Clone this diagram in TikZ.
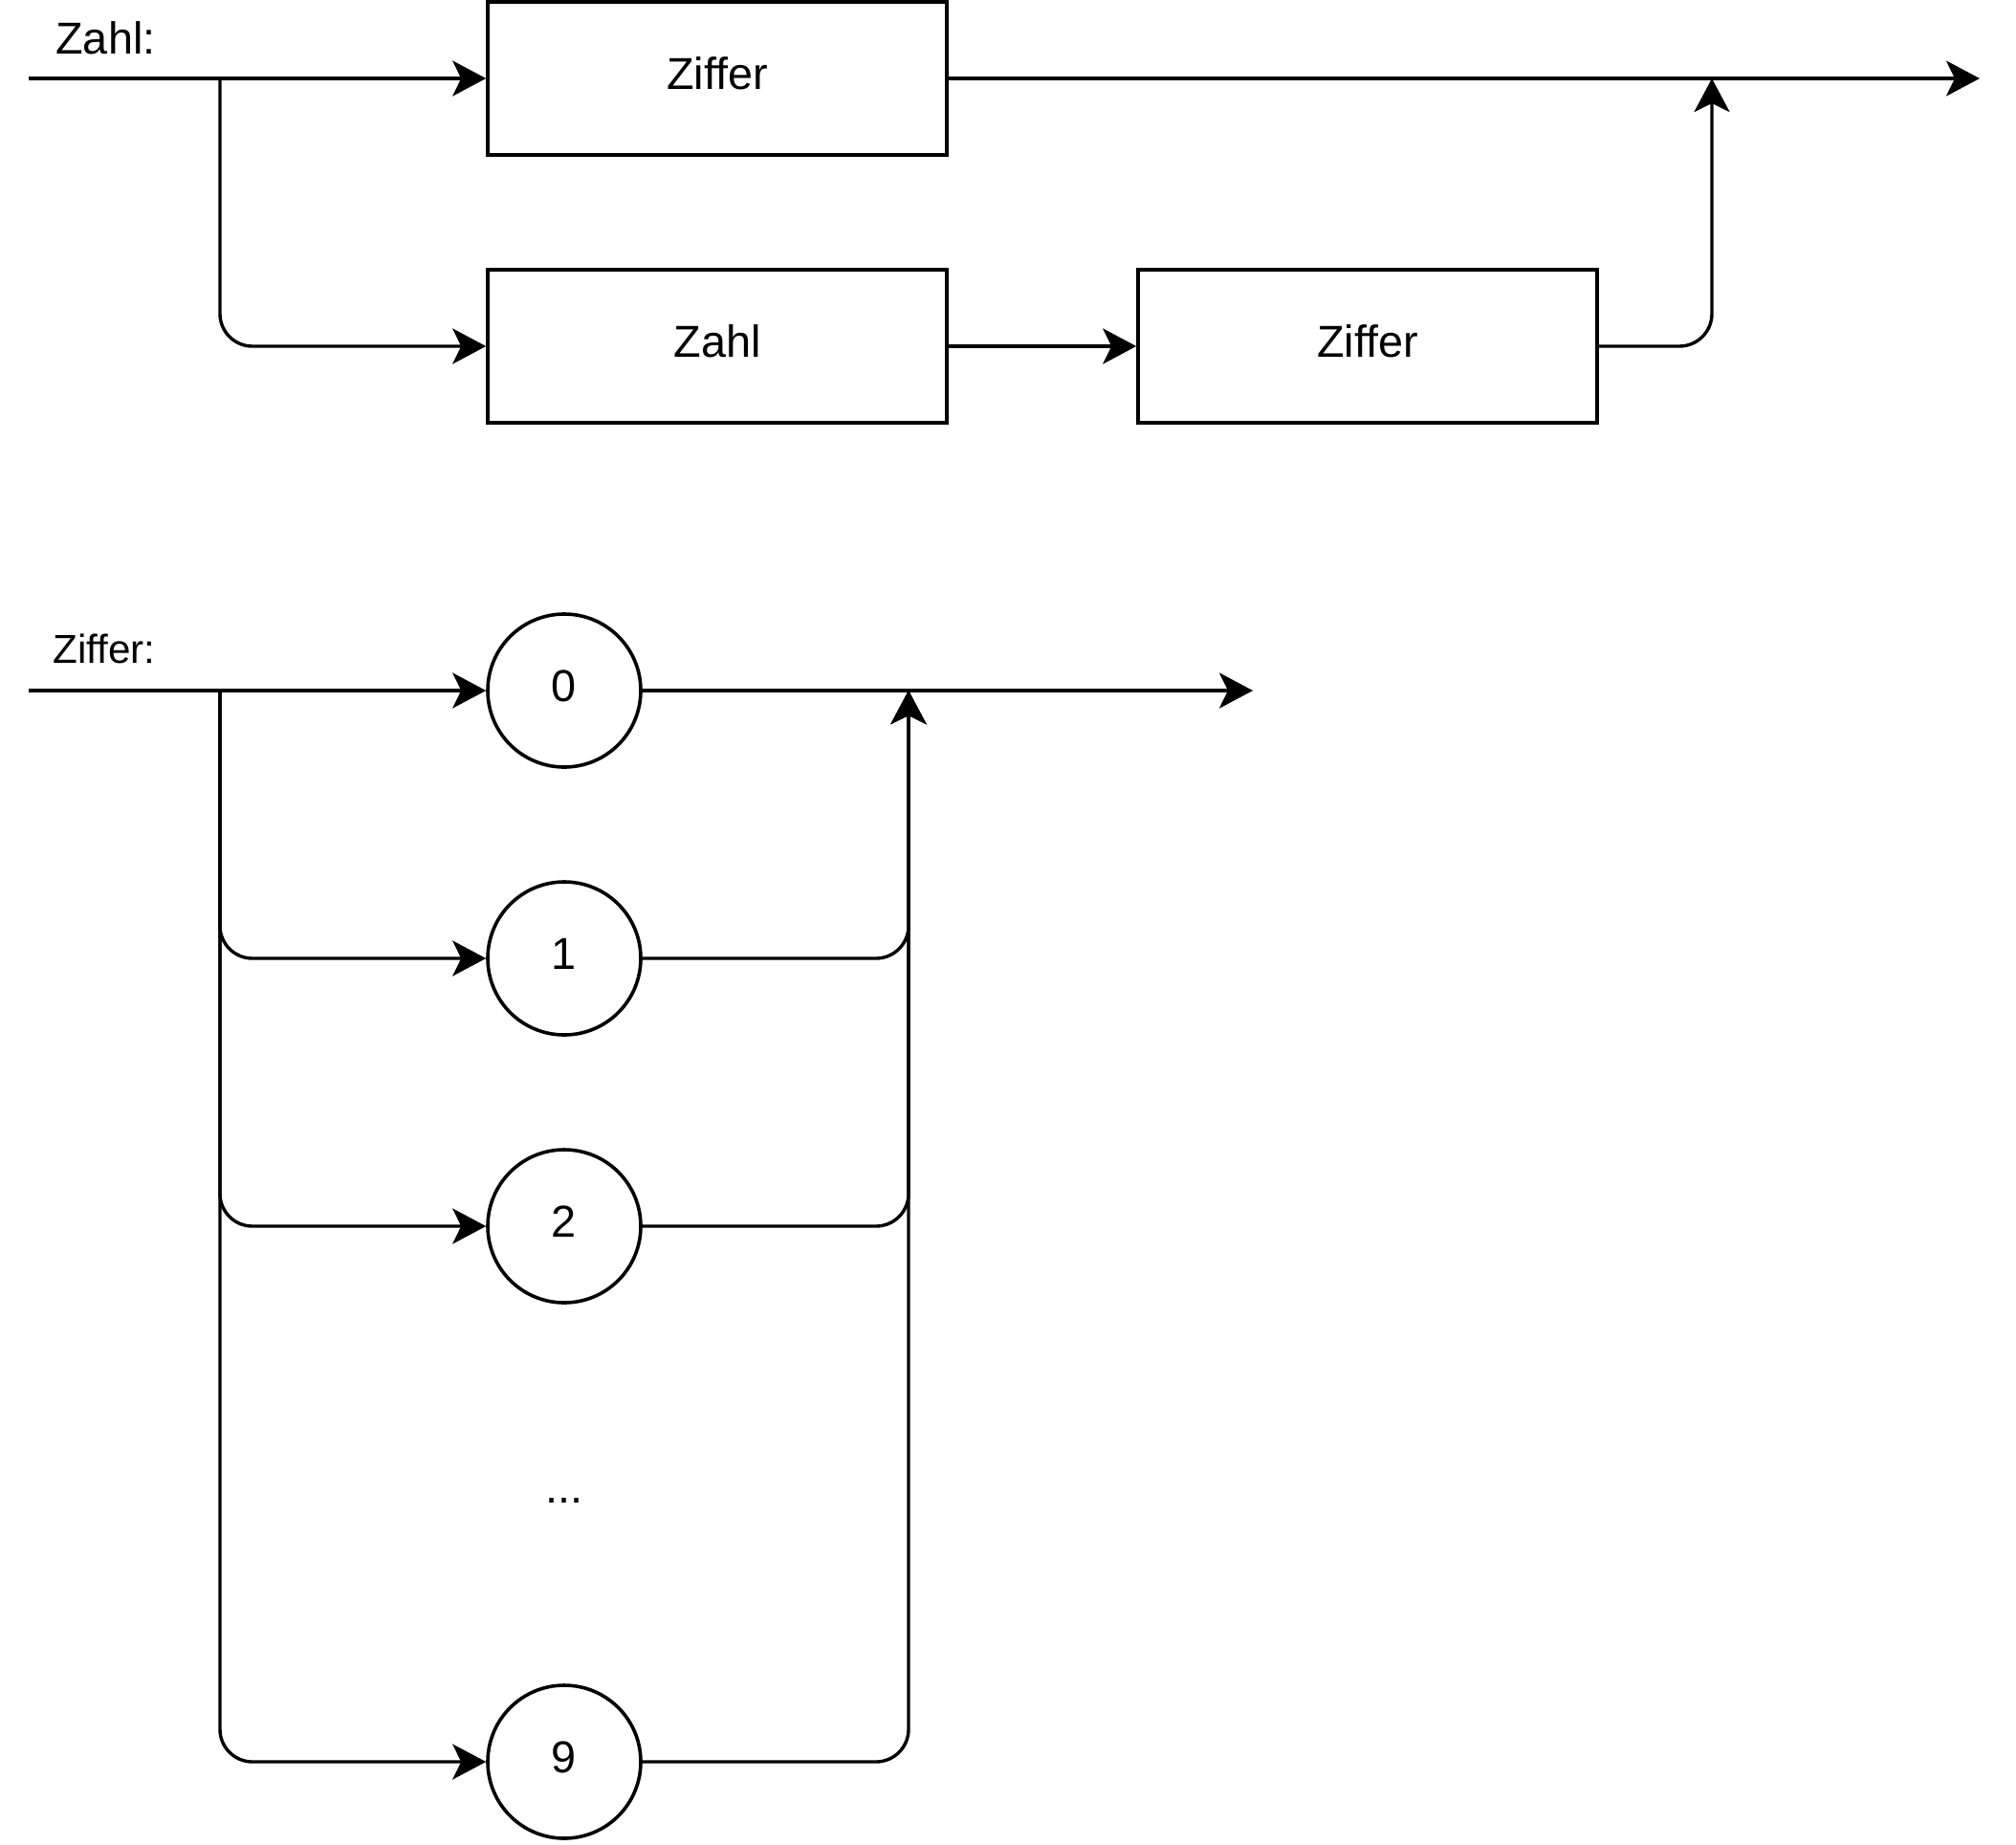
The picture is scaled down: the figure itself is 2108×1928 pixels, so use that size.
\documentclass[tikz,border=0pt]{standalone}
\usepackage{fontspec}
\setmainfont{Liberation Sans}
\usetikzlibrary{arrows.meta}
\begin{document}
\begin{tikzpicture}[x=0.5pt,y=-0.5pt,
  conn/.style={line width=1.7pt, line join=round},
  arr/.style={conn, -{Stealth[length=17.5pt,width=18.5pt,inset=4.5pt]}},
  rarr/.style={arr, rounded corners=17pt},
  txt/.style={font=\fontsize{23.4}{28}\selectfont, text height=11pt, text depth=0pt, inner sep=0pt},
  boxnode/.style={txt, draw, line width=1.8pt, minimum width=240pt, minimum height=80pt},
  circnode/.style={txt, draw, circle, line width=1.8pt, minimum size=80pt},
  lbl/.style={inner sep=0pt, anchor=base west}
]
\useasboundingbox (0,0) rectangle (2108,1928);
\fill[white] (0,0) rectangle (2108,1928);

% ---------- Zahl ----------
\node[lbl, font=\fontsize{23.4}{28}\selectfont] (lzahl) at (58,56) {Zahl:};
\coordinate (s1) at (30,82);
\coordinate (b1) at (230,82);
\coordinate (j1) at (1790,82);
\coordinate (e1) at (2070,82);
\node[boxnode] (zif1) at (750,82) {Ziffer};
\node[boxnode] (zahl) at (750,362) {Zahl};
\node[boxnode] (zif2) at (1430,362) {Ziffer};

\draw[arr] (s1) -- (zif1.west);
\draw[rarr] (b1) |- (zahl.west);
\draw[arr] (zif1.east) -- (e1);
\draw[arr] (zahl.east) -- (zif2.west);
\draw[rarr] (zif2.east) -| (j1);

% ---------- Ziffer ----------
\node[lbl, font=\fontsize{21.1}{26}\selectfont] (lziffer) at (55,693) {Ziffer:};
\coordinate (s2) at (30,722);
\coordinate (b2) at (230,722);
\coordinate (j2) at (950,722);
\coordinate (e2) at (1310,722);
\node[circnode] (c0) at (590,722) {0};
\node[circnode] (c1) at (590,1002) {1};
\node[circnode] (c2) at (590,1282) {2};
\node[txt] (dots) at (590,1560) {...};
\node[circnode] (c9) at (590,1842) {9};

\draw[arr] (s2) -- (c0.west);
\draw[arr] (c0.east) -- (e2);
\draw[rarr] (b2) |- (c1.west);
\draw[rarr] (b2) |- (c2.west);
\draw[rarr] (b2) |- (c9.west);
\draw[rarr] (c1.east) -| (j2);
\draw[rarr] (c2.east) -| (j2);
\draw[rarr] (c9.east) -| (j2);
\end{tikzpicture}
\end{document}
